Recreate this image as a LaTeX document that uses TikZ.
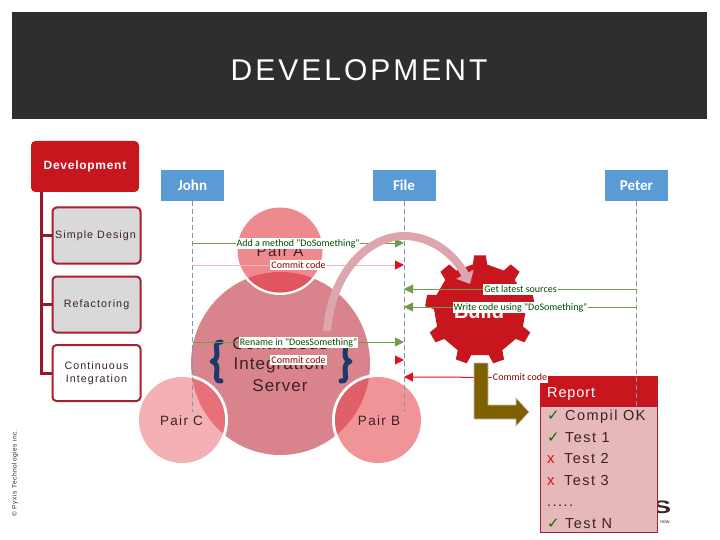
\documentclass[tikz,border=0pt]{standalone}
\usepackage{fontspec}
\setmainfont{Liberation Sans}
\newfontfamily\spaced[LetterSpace=10]{Liberation Sans}
\newfontfamily\spacedb[LetterSpace=6]{Liberation Sans}
\newfontfamily\cb{Carlito}
\newfontfamily\djv{DejaVu Sans}
\usetikzlibrary{arrows.meta}
\definecolor{hdr}{HTML}{2E2E30}
\definecolor{crimson}{HTML}{C8161F}
\definecolor{treeline}{HTML}{8E1A2A}
\definecolor{boxedge}{HTML}{A81F30}
\definecolor{actor}{HTML}{5B9BD5}
\definecolor{msggreen}{HTML}{6F9C4A}
\definecolor{msgred}{HTML}{E0101E}
\definecolor{msgpink}{HTML}{F0B8BC}
\definecolor{life}{HTML}{7F97A8}
\definecolor{mainc}{HTML}{D9838D}
\definecolor{darktxt}{HTML}{3A2226}
\definecolor{navy}{HTML}{1B3A6B}
\definecolor{brown}{HTML}{7F6000}
\definecolor{reportbg}{HTML}{E6B8BA}
\definecolor{arcpink}{HTML}{DDA6AE}
\definecolor{paira}{HTML}{EE8A8E}
\definecolor{pairb}{HTML}{F09498}
\definecolor{pairc}{HTML}{F3B1B3}
\definecolor{ovla}{HTML}{E05560}
\definecolor{ovlb}{HTML}{E0606A}
\definecolor{ovlc}{HTML}{E87078}
\tikzset{
  parent/.style={draw=crimson,fill=crimson,rounded corners=4pt,line width=1pt,text=white,font=\spacedb\bfseries\fontsize{12}{14}\selectfont,minimum width=107pt,minimum height=50pt,inner sep=0pt},
  child/.style={draw=boxedge,line width=2pt,rounded corners=4pt,minimum width=88pt,minimum height=56pt,inner sep=0pt,align=center,text=darktxt,font=\spaced\fontsize{10.7}{14}\selectfont},
  actorbox/.style={fill=actor,minimum width=63pt,minimum height=31pt,inner sep=0pt,text=white,font=\cb\bfseries\fontsize{15}{17}\selectfont},
  lifeline/.style={draw=life,line width=.8pt,dash pattern=on 5pt off 3pt},
  tree/.style={draw=treeline,line width=3pt},
  msg/.style={line width=1pt,-{Triangle[length=9pt,width=9pt]}},
  msglabel/.style={fill=white,inner xsep=1pt,inner ysep=1.5pt,font=\cb\fontsize{10}{11}\selectfont},
  pairtext/.style={text=darktxt,font=\spaced\fontsize{13.5}{16}\selectfont,inner sep=0pt},
  citext/.style={text=darktxt,font=\spacedb\fontsize{17}{20}\selectfont,inner sep=0pt},
  brace/.style={draw=navy,line width=5pt,line cap=round,line join=round},
  rowtext/.style={anchor=base west,inner sep=0pt,text=darktxt,font=\spaced\fontsize{14.5}{16}\selectfont},
  tick/.style={anchor=base west,inner sep=0pt,text=green!45!black,font=\djv\fontsize{15}{16}\selectfont},
  cross/.style={anchor=base west,inner sep=0pt,text=msgred,font=\fontsize{15}{16}\selectfont},
}
\begin{document}
\begin{tikzpicture}[x=1pt,y=-1pt]
\useasboundingbox (0,0) rectangle (720,540);
% header
\node[fill=hdr,minimum width=695pt,minimum height=107pt,inner sep=0pt] (header) at (359.5,65.5) {};
\node[text=white,font=\spaced\fontsize{30}{34}\selectfont,inner sep=0pt] (title) at (359,70) {DEVELOPMENT};
% copyright
\node[rotate=90,font=\spaced\fontsize{6.5}{8}\selectfont,text=darktxt,inner sep=0pt] (copy) at (15,473) {© Pyxis Technologies inc.};
% tree
\node[parent] (dev) at (85,166.5) {\raisebox{-1.5pt}{Development}};
\node[child,fill=black!15] (sd) at (96.5,235.5) {\hspace*{-2pt}\raisebox{-1pt}{Simple Design}};
\node[child,fill=black!15] (rf) at (96.5,304.5) {\raisebox{-1pt}{Refactoring}};
\node[child,fill=white] (ci) at (96.5,373) {\raisebox{-2pt}{\begin{tabular}{@{}c@{}}Continuous\\[-1pt]Integration\end{tabular}}};
\coordinate (trunk) at (41.5,192);
\draw[tree] (trunk) |- (sd.west);
\draw[tree] (trunk) |- (rf.west);
\draw[tree] (trunk) |- (ci.west);
% logo fragment
\node[font=\bfseries\fontsize{18}{20}\selectfont,text=darktxt,inner sep=0pt,xscale=1.5] (logoS) at (662,507) {S};
\node[font=\fontsize{5}{6}\selectfont,text=darktxt,inner sep=0pt] (logonow) at (665,522) {now};
% server circles
\fill[mainc] (280.5,363.5) ellipse (89.5 and 91.5);
\fill[white] (280,250) circle (45);
\fill[white] (182,420) circle (46);
\fill[white] (378,420) circle (46);
\fill[paira] (280,250) circle (42.5);
\fill[pairc] (182,420) circle (43);
\fill[pairb] (378,420) circle (43);
\begin{scope}
\clip (280.5,363.5) ellipse (89.5 and 91.5);
\fill[ovla] (280,250) circle (42.5);
\fill[ovlc] (182,420) circle (43);
\fill[ovlb] (378,420) circle (43);
\end{scope}
\node[pairtext,font=\spaced\fontsize{15}{18}\selectfont] (pa) at (280,251) {Pair A};
\node[pairtext] (pc) at (181.5,421) {Pair C};
\node[pairtext] (pb) at (379,421) {Pair B};
\node[citext] (c1) at (280,343) {Continuous};
\node[citext] (c2) at (279,365.5) {Integration};
\node[citext] (c3) at (280,386) {Server};
\draw[brace] (221,342) .. controls (214,342) and (217,348) .. (217,354) .. controls (217,358) and (215,361) .. (212,361.5) .. controls (215,362) and (217,365) .. (217,369) .. controls (217,376) and (214,381) .. (221,381);
\draw[brace] (341,342) .. controls (348,342) and (345,348) .. (345,354) .. controls (345,358) and (347,361) .. (350,361.5) .. controls (347,362) and (345,365) .. (345,369) .. controls (345,376) and (348,381) .. (341,381);
% gear
\fill[crimson] ({480+46*cos(100)},{310-46*sin(100)})
  \foreach \a in {90,50,10,-30,-70,-110,-150,-190,-230}{
    -- ({480+46*cos(\a+9)},{310-46*sin(\a+9)})
    -- ({480+55*cos(\a+6)},{310-55*sin(\a+6)})
    -- ({480+55*cos(\a-6)},{310-55*sin(\a-6)})
    -- ({480+46*cos(\a-9)},{310-46*sin(\a-9)})
  } -- cycle;
\node[text=white,font=\bfseries\fontsize{20}{22}\selectfont,anchor=base,inner sep=0pt] (build) at (479,318) {Build};
% actors
\node[actorbox] (john) at (192.5,185.5) {John};
\node[actorbox] (file) at (404,185.5) {File};
\node[actorbox] (peter) at (636.5,185.5) {Peter};
\coordinate (johnend) at (192.5,412);
\coordinate (fileend) at (404,412);
\coordinate (peterend) at (636.5,421);
% report
\node[fill=reportbg,draw=boxedge,line width=.8pt,minimum width=117pt,minimum height=126pt,inner sep=0pt] (rbody) at (598.5,469) {};
\node[fill=crimson,minimum width=118pt,minimum height=30pt,inner sep=0pt] (rhead) at (599,391) {};
\node[anchor=base west,inner sep=0pt,text=white,font=\spacedb\fontsize{14.5}{16}\selectfont] (rtitle) at (547,397) {Report};
\node[tick] (t1) at (547,420) {✓};
\node[rowtext] (r1) at (565,420) {Compil OK};
\node[tick] (t2) at (547,442) {✓};
\node[rowtext] (r2) at (565,442) {Test 1};
\node[cross] (x3) at (547,463) {x};
\node[rowtext] (r3) at (564,463) {Test 2};
\node[cross] (x4) at (547,485) {x};
\node[rowtext] (r4) at (564,485) {Test 3};
\node[rowtext] (r5) at (547,506) {.....};
\node[tick] (t6) at (547,528) {✓};
\node[rowtext] (r6) at (565,528) {Test N};
% lifelines
\draw[lifeline] (john.south) -- (johnend);
\draw[lifeline] (file.south) -- (fileend);
\draw[lifeline] (peter.south) -- (peterend);
% messages
\coordinate (m1a) at (192.5,243); \coordinate (m1b) at (404,243);
\coordinate (m2a) at (192.5,265); \coordinate (m2b) at (404,265);
\coordinate (m3a) at (636.5,289); \coordinate (m3b) at (404,289);
\coordinate (m4a) at (636.5,307); \coordinate (m4b) at (404,307);
\coordinate (m5a) at (192.5,342); \coordinate (m5b) at (404,342);
\coordinate (m6a) at (395,360);   \coordinate (m6b) at (404,360);
\coordinate (m7b) at (404,377);
\draw[msg,draw=msggreen] (m1a) -- (m1b);
\draw[line width=1pt,draw=msgpink,-{Triangle[length=9pt,width=9pt,color=msgred]}] (m2a) -- (m2b);
\draw[msg,draw=msggreen] (m3a) -- (m3b);
\draw[msg,draw=msggreen] (m4a) -- (m4b);
\draw[msg,draw=msggreen] (m5a) -- (m5b);
\draw[msg,draw=msgred] (m6a) -- (m6b);
\node[msglabel,text=green!30!black] (l1) at (298,243.5) {Add a method "DoSomething"};
\node[msglabel,text=red!55!black] (l2) at (298.5,265) {Commit code};
\node[msglabel,text=green!30!black] (l3) at (520.5,289.5) {Get latest sources};
\node[msglabel,text=green!30!black] (l4) at (520.5,307.5) {Write code using "DoSomething"};
\node[msglabel,text=green!30!black] (l5) at (298.5,342.5) {Rename in "DoesSomething"};
\node[msglabel,text=red!55!black] (l6) at (298.5,360) {Commit code};
\node[msglabel,text=red!55!black] (l7) at (520,377.5) {Commit code};
\draw[msg,draw=msgred] (l7) -- (m7b);
% brown L arrow
\fill[brown,draw=black!25,line width=.6pt] (474,363) -- (488,363) -- (488,405) -- (516,405) -- (516,398) -- (529,412) -- (516,426) -- (516,419) -- (474,419) -- cycle;
% curved arrow
\draw[draw=arcpink,line width=8pt,-{Triangle[length=11pt,width=19pt]}] (327,331) .. controls (332,270) and (370,236) .. (404,236) .. controls (432,236) and (455,255) .. (470,284);
\end{tikzpicture}
\end{document}
